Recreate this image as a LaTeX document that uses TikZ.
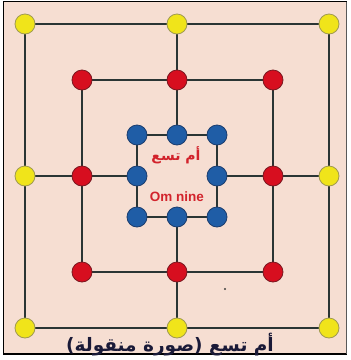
\documentclass[tikz,border=0pt]{standalone}
\usepackage{fontspec}
\setmainfont{Liberation Sans}
\newfontfamily\arabicfont[Script=Arabic]{DejaVu Sans}
\TeXXeTstate=1
\pgfdeclarelayer{back}
\pgfdeclarelayer{bg}
\pgfsetlayers{back,bg,main}
\definecolor{bgpeach}{HTML}{F6DED2}
\definecolor{linegray}{HTML}{2A3534}
\definecolor{yel}{HTML}{F0E41A}
\definecolor{yelo}{HTML}{A09A50}
\definecolor{redf}{HTML}{D70E1F}
\definecolor{redo}{HTML}{7A1820}
\definecolor{bluef}{HTML}{1F5DA6}
\definecolor{blueo}{HTML}{1B3D6E}
\definecolor{txtred}{HTML}{D2232C}
\definecolor{txtnavy}{HTML}{1A1A38}
\begin{document}
\begin{tikzpicture}[x=1pt,y=-1pt,
  pt/.style={circle,minimum size=20pt,inner sep=0pt,line width=0.8pt},
  ypt/.style={pt,fill=yel,draw=yelo},
  rpt/.style={pt,fill=redf,draw=redo},
  bpt/.style={pt,fill=bluef,draw=blueo},
  bd/.style={line width=2.6pt,draw=linegray}]
\useasboundingbox (0,0) rectangle (351,360);
\begin{pgfonlayer}{back}
\fill[bgpeach] (3.5,1.5) rectangle (347,354);
\draw[line width=1.6pt,black] (3.5,1.5) -- (3.5,354) -- (347,354);
\draw[line width=1.6pt,black] (3.5,1.5) -- (347,1.5);
\draw[line width=1pt,gray!70!black] (347,1.5) -- (347,354);
\end{pgfonlayer}
\path (25,24) node[ypt] (y1) {} (177,24) node[ypt] (y2) {} (329,24) node[ypt] (y3) {}
      (25,176) node[ypt] (y4) {} (329,176) node[ypt] (y5) {}
      (25,328) node[ypt] (y6) {} (177,328) node[ypt] (y7) {} (329,328) node[ypt] (y8) {};
\path (82,80) node[rpt] (r1) {} (177,80) node[rpt] (r2) {} (273,80) node[rpt] (r3) {}
      (82,176) node[rpt] (r4) {} (273,176) node[rpt] (r5) {}
      (82,272) node[rpt] (r6) {} (177,272) node[rpt] (r7) {} (273,272) node[rpt] (r8) {};
\path (137,135) node[bpt] (b1) {} (177,135) node[bpt] (b2) {} (217,135) node[bpt] (b3) {}
      (137,176) node[bpt] (b4) {} (217,176) node[bpt] (b5) {}
      (137,217) node[bpt] (b6) {} (177,217) node[bpt] (b7) {} (217,217) node[bpt] (b8) {};
\begin{pgfonlayer}{bg}
\draw[bd] (y1.center) -- (y3.center) -- (y8.center) -- (y6.center) -- cycle;
\draw[bd] (r1.center) -- (r3.center) -- (r8.center) -- (r6.center) -- cycle;
\draw[bd] (b1.center) -- (b3.center) -- (b8.center) -- (b6.center) -- cycle;
\draw[bd] (y2.center) -- (b2.center);
\draw[bd] (b7.center) -- (y7.center);
\draw[bd] (y4.center) -- (b4.center);
\draw[bd] (b5.center) -- (y5.center);
\end{pgfonlayer}
\node[text=txtred,font=\arabicfont\bfseries\fontsize{14}{16}\selectfont] (ar) at (176,155) {\beginR أم تسع\endR};
\node[text=txtred,font=\bfseries\fontsize{13.5}{15}\selectfont] (om) at (177,197) {Om nine};
\node[text=txtnavy,font=\arabicfont\bfseries\fontsize{18.5}{20}\selectfont] (cap) at (170,345) {\beginR أم تسع (صورة منقولة)\endR};
\fill[black!75] (225,289) circle (1.2pt);
\end{tikzpicture}
\end{document}
